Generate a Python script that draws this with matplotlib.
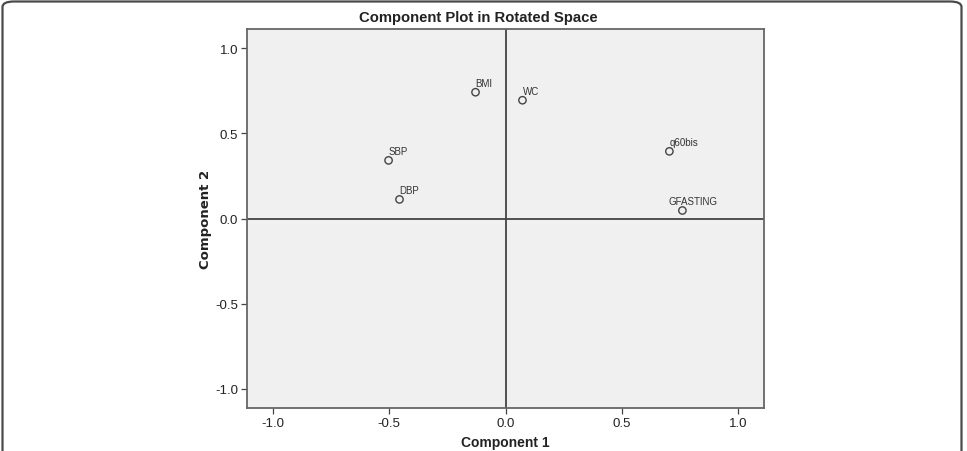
import matplotlib
matplotlib.use("Agg")
import matplotlib.pyplot as plt
from matplotlib.patches import FancyBboxPatch

variables = ["BMI", "WC", "SBP", "DBP", "q60bis", "GFASTING"]
component1 = [-0.129, 0.073, -0.503, -0.456, 0.705, 0.761]
component2 = [0.741, 0.694, 0.341, 0.112, 0.394, 0.047]
ticks = [-1.0, -0.5, 0.0, 0.5, 1.0]
tick_labels = ["-1.0", "-0.5", "0.0", "0.5", "1.0"]

plt.rcParams['font.family'] = ['Liberation Sans', 'DejaVu Sans']

fig = plt.figure(figsize=(9.67, 4.52), dpi=100)
fig.patch.set_facecolor("white")

# outer rounded frame
frame = FancyBboxPatch((2.5 / 967, -0.2), (961.5 - 2.5) / 967, 1.2 - 2.5 / 452,
                       boxstyle="round,pad=0,rounding_size=0.012",
                       transform=fig.transFigure, facecolor="none",
                       edgecolor="#4a4a4a", linewidth=1.6, clip_on=False)
fig.patches.append(frame)

ax = fig.add_axes([247 / 967, 1 - 409 / 452, (764 - 247) / 967, (409 - 30) / 452])
ax.set_facecolor("#f0f0f0")
ax.set_xlim(-1.112, 1.112)
ax.set_ylim(-1.112, 1.112)

ax.axhline(0, color="#444444", linewidth=1.3, zorder=1)
ax.axvline(0, color="#444444", linewidth=1.3, zorder=1)

ax.scatter(component1, component2, s=28, facecolors="none", edgecolors="#444444",
           linewidths=1.0, zorder=3)

offsets = {"GFASTING": (-10, 3)}
for name, x, y in zip(variables, component1, component2):
    dx, dy = offsets.get(name, (0, 3))
    ax.annotate(name, (x, y), xytext=(dx, dy), textcoords="offset points",
                fontsize=7, color="#333333", ha="left", va="bottom")

ax.set_xticks(ticks)
ax.set_xticklabels(tick_labels)
ax.set_yticks(ticks)
ax.set_yticklabels(tick_labels)
ax.tick_params(direction="out", length=4.5, width=0.9, colors="#444444",
               labelsize=9.5, labelcolor="#222222", pad=2)
for sp in ax.spines.values():
    sp.set_color("#666666")
    sp.set_linewidth(1.3)

fig.text(478 / 967, 1 - 18 / 452, "Component Plot in Rotated Space", fontsize=10.7,
         fontweight="bold", color="#222222", ha="center", va="center")
ax.set_xlabel("Component 1", fontsize=10, fontweight="bold", color="#222222", labelpad=4)
ax.set_ylabel("Component 2", fontsize=9.5, fontweight="bold", color="#222222", labelpad=2,
              family=["DejaVu Sans"])

fig.savefig("out.png", dpi=100)
